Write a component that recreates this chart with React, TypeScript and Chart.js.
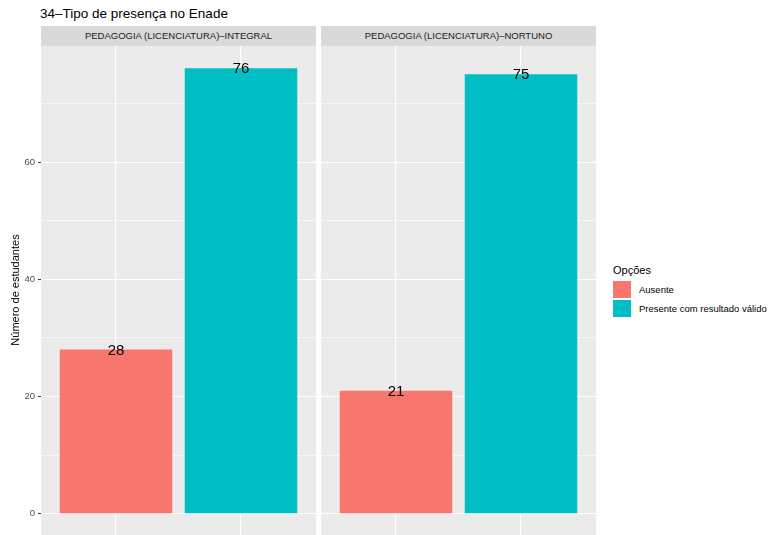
import React, { useEffect, useRef } from "react";
import { Chart, registerables } from "chart.js";

Chart.register(...registerables);

const chartTitle = "34–Tipo de presença no Enade";
const yAxisTitle = "Número de estudantes";
const legendTitle = "Opções";
const panelNames = ["PEDAGOGIA (LICENCIATURA)–INTEGRAL", "PEDAGOGIA (LICENCIATURA)–NORTUNO"];
const optionNames = ["Ausente", "Presente com resultado válido"];
const integralValues = [28, 76];
const noturnoValues = [21, 75];
const optionColors = ["#F8766D", "#00BFC4"];
const yMajorTicks = [0, 20, 40, 60];
const yAllTicks = [0, 10, 20, 30, 40, 50, 60, 70];
const yMin = -3.8;
const yMax = 79.8;

const FONT = "'Liberation Sans', Arial, Helvetica, sans-serif";

const panelBg = {
  id: "panelBg",
  beforeDraw(chart: any) {
    const { ctx, chartArea } = chart;
    ctx.save();
    ctx.fillStyle = "#EBEBEB";
    ctx.fillRect(chartArea.left, chartArea.top, chartArea.right - chartArea.left, chartArea.bottom - chartArea.top);
    ctx.restore();
  },
};

const barLabels = {
  id: "barLabels",
  afterDatasetsDraw(chart: any) {
    const { ctx } = chart;
    ctx.save();
    ctx.font = `15px ${FONT}`;
    ctx.fillStyle = "#000000";
    ctx.textAlign = "center";
    ctx.textBaseline = "middle";
    chart.data.datasets.forEach((ds: any, di: number) => {
      const meta = chart.getDatasetMeta(di);
      meta.data.forEach((el: any, i: number) => {
        ctx.fillText(String(ds.data[i].y), el.x, el.y + 1);
      });
    });
    ctx.restore();
  },
};

function makeConfig(values: number[], showAxis: boolean): any {
  return {
    type: "bar",
    data: {
      datasets: [
        {
          data: values.map((v, i) => ({ x: i + 1, y: v })),
          backgroundColor: optionColors,
          barPercentage: 0.9,
          categoryPercentage: 1,
          borderWidth: 0,
        },
      ],
    },
    options: {
      animation: false,
      responsive: false,
      devicePixelRatio: 1,
      layout: { padding: 0 },
      plugins: { legend: { display: false }, tooltip: { enabled: false } },
      scales: {
        x: {
          type: "linear",
          min: 0.4,
          max: 2.6,
          offset: false,
          afterBuildTicks: (s: any) => {
            s.ticks = [{ value: 1 }, { value: 2 }];
          },
          ticks: { display: false },
          grid: { color: "#FFFFFF", lineWidth: 1.1, drawTicks: false, offset: false },
          border: { display: false },
          afterFit: (s: any) => {
            s.height = 0;
            s.paddingLeft = 0;
            s.paddingRight = 0;
          },
        },
        y: {
          type: "linear",
          min: yMin,
          max: yMax,
          afterBuildTicks: (s: any) => {
            s.ticks = yAllTicks.map((v) => ({ value: v }));
          },
          ticks: {
            display: showAxis,
            padding: 3,
            color: "#4D4D4D",
            font: { family: FONT, size: 9.5 },
            callback: (v: any) => (yMajorTicks.includes(Number(v)) ? String(v) : ""),
          },
          grid: {
            color: "#FFFFFF",
            lineWidth: (c: any) => (c.tick && c.tick.value % 20 === 0 ? 1.1 : 0.55),
            drawTicks: showAxis,
            tickLength: 3,
            tickWidth: 1,
            tickColor: (c: any) => (c.tick && c.tick.value % 20 === 0 ? "#333333" : "rgba(0,0,0,0)"),
          },
          border: { display: false },
          afterFit: (s: any) => {
            s.width = showAxis ? 41 : 0;
            s.paddingTop = 0;
            s.paddingBottom = 0;
          },
        },
      },
    },
    plugins: [panelBg, barLabels],
  };
}

function Panel({ values, showAxis, left, width }: { values: number[]; showAxis: boolean; left: number; width: number }) {
  const ref = useRef<HTMLCanvasElement | null>(null);
  useEffect(() => {
    if (!ref.current) return;
    const chart = new Chart(ref.current, makeConfig(values, showAxis));
    return () => chart.destroy();
  }, [values, showAxis]);
  return (
    <canvas
      ref={ref}
      width={width}
      height={490}
      style={{ position: "absolute", left, top: 46, width, height: 490 }}
    />
  );
}

export default function App() {
  const stripStyle = (left: number): React.CSSProperties => ({
    position: "absolute",
    left,
    top: 26,
    width: 275,
    height: 20,
    background: "#D9D9D9",
    color: "#1A1A1A",
    fontSize: 9.5,
    lineHeight: "20px",
    textAlign: "center",
    whiteSpace: "nowrap",
  });
  return (
    <div
      style={{
        position: "fixed",
        left: 0,
        top: 0,
        width: 771,
        height: 535,
        background: "#FFFFFF",
        fontFamily: FONT,
        overflow: "hidden",
      }}
    >
      <div style={{ position: "absolute", left: 40, top: 5, fontSize: 13.5, lineHeight: "18px", color: "#000" }}>
        {chartTitle}
      </div>
      <div style={stripStyle(41)}>{panelNames[0]}</div>
      <div style={stripStyle(321)}>{panelNames[1]}</div>
      <Panel values={integralValues} showAxis={true} left={0} width={316} />
      <Panel values={noturnoValues} showAxis={false} left={321} width={275} />
      <div
        style={{
          position: "absolute",
          left: -45,
          top: 283,
          width: 120,
          height: 14,
          fontSize: 11,
          lineHeight: "14px",
          textAlign: "center",
          fontWeight: "normal",
          color: "#000",
          whiteSpace: "nowrap",
          transform: "rotate(-90deg)",
        }}
      >
        {yAxisTitle}
      </div>
      <div style={{ position: "absolute", left: 613, top: 262, fontSize: 11, lineHeight: "16px", color: "#000" }}>
        {legendTitle}
      </div>
      {optionNames.map((name, i) => (
        <React.Fragment key={name}>
          <div
            style={{
              position: "absolute",
              left: 613,
              top: 281 + i * 18.5,
              width: 18,
              height: 17,
              background: optionColors[i],
            }}
          />
          <div
            style={{
              position: "absolute",
              left: 639,
              top: 281 + i * 18.5,
              height: 17,
              lineHeight: "17px",
              fontSize: 9.5,
              color: "#000",
              whiteSpace: "nowrap",
            }}
          >
            {name}
          </div>
        </React.Fragment>
      ))}
    </div>
  );
}
